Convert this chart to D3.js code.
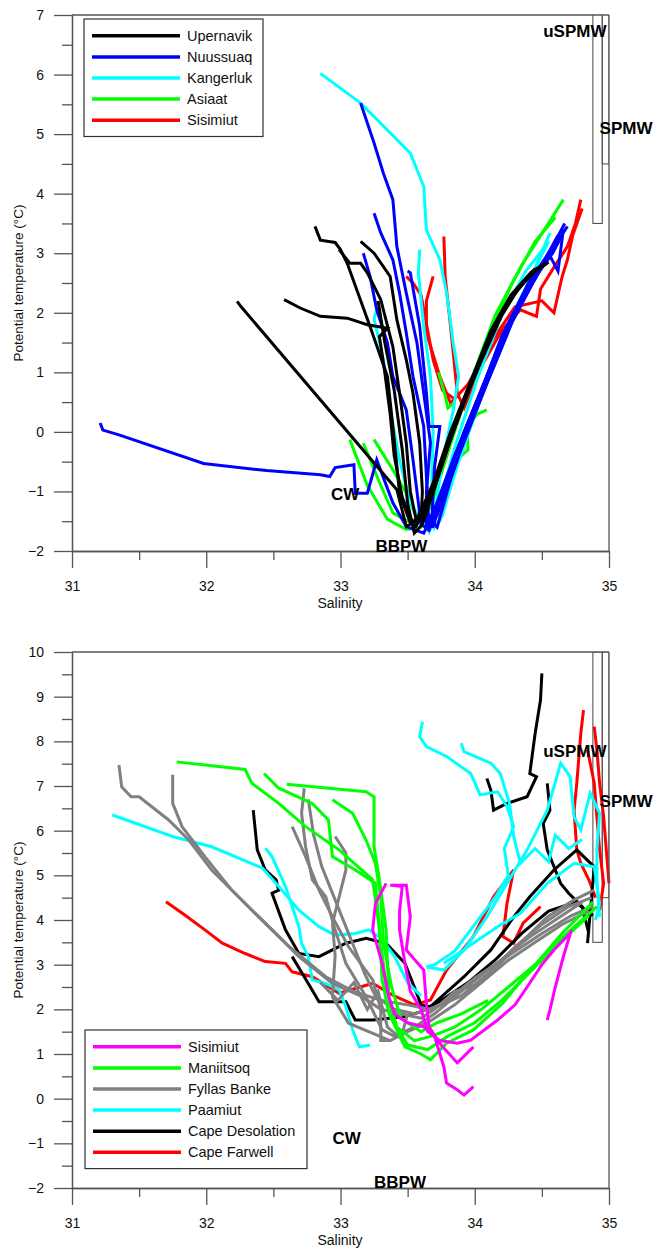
<!DOCTYPE html>
<html>
<head>
<meta charset="utf-8">
<script src="https://cdn.jsdelivr.net/npm/d3@7"></script>
<style>
  body { margin: 0; background: #fff; }
  svg text { font-family: Arial, "Liberation Sans", sans-serif; }
</style>
</head>
<body>
<script>
// ---- data: [salinity, potential temperature] along each profile ----

// upper panel
var upernavik = [
  [[32.23,2.19],[32.26,2.1],[33.42,-0.97],[33.49,-1.59],[33.56,-1.5],[33.72,-0.75],[33.84,0.09],[33.99,0.93],[34.14,1.77],[34.29,2.33],[34.44,2.72],[34.54,2.83]],
  [[32.81,3.45],[32.85,3.22],[32.96,3.18],[33.0,3.06],[33.05,2.83],[33.22,1.77],[33.35,0.93],[33.39,0.09],[33.44,-1.03],[33.52,-1.53],[33.58,-1.45],[33.7,-0.8],[33.82,0.0],[33.97,0.85],[34.12,1.7],[34.27,2.3],[34.42,2.68],[34.52,2.8]],
  [[32.58,2.22],[32.7,2.08],[32.85,1.94],[33.05,1.91],[33.2,1.8],[33.35,1.74],[33.29,1.6],[33.33,1.0],[33.37,0.3],[33.4,-0.4],[33.46,-1.1],[33.55,-1.6],[33.62,-1.4],[33.75,-0.55],[33.88,0.3],[34.02,1.1],[34.17,1.85],[34.32,2.4],[34.47,2.75],[34.55,2.85]],
  [[32.99,3.06],[33.07,2.83],[33.15,2.83],[33.2,2.67],[33.3,2.22],[33.39,1.43],[33.44,0.65],[33.49,-0.19],[33.52,-1.0],[33.57,-1.55],[33.63,-1.3],[33.74,-0.6],[33.86,0.2],[34.0,1.0],[34.15,1.8],[34.3,2.35],[34.45,2.7],[34.53,2.82]],
  [[33.15,3.2],[33.25,3.0],[33.37,2.61],[33.42,1.88],[33.49,1.21],[33.54,0.65],[33.59,-0.19],[33.61,-1.0],[33.6,-1.5],[33.66,-1.2],[33.78,-0.4],[33.9,0.4],[34.05,1.2],[34.2,1.95],[34.35,2.5],[34.5,2.8]],
  [[33.28,2.2],[33.33,1.5],[33.4,0.7],[33.46,-0.3],[33.5,-1.2],[33.55,-1.7],[33.61,-1.55],[33.7,-0.95],[33.8,-0.25],[33.94,0.6],[34.08,1.45],[34.24,2.15],[34.4,2.6],[34.5,2.78]]
];
var nuussuaq = [
  [[33.15,5.52],[33.25,4.85],[33.32,4.34],[33.39,3.9],[33.42,3.11],[33.49,2.33],[33.57,1.49],[33.62,0.65],[33.67,-0.18],[33.64,-1.0],[33.64,-1.59],[33.69,-1.59],[33.84,-0.47],[34.04,0.65],[34.24,1.77],[34.46,2.61],[34.59,3.11],[34.69,3.45]],
  [[31.21,0.15],[31.23,0.03],[31.35,-0.05],[31.98,-0.53],[32.45,-0.65],[32.85,-0.72],[32.92,-0.75],[32.96,-0.6],[33.1,-0.55],[33.11,-1.03],[33.2,-1.03],[33.27,-0.47],[33.39,-1.19],[33.49,-1.59],[33.62,-1.7],[33.7,-1.3],[33.85,-0.4],[34.05,0.7],[34.25,1.8],[34.45,2.6],[34.58,3.0],[34.65,3.3]],
  [[33.25,3.67],[33.3,3.34],[33.39,2.89],[33.44,2.33],[33.49,1.66],[33.54,0.93],[33.62,0.09],[33.64,-0.75],[33.66,-1.6],[33.72,-1.4],[33.88,-0.4],[34.08,0.75],[34.28,1.85],[34.48,2.7],[34.6,3.2],[34.67,3.5]],
  [[33.17,3.0],[33.22,2.61],[33.27,2.05],[33.35,1.49],[33.39,0.93],[33.49,0.37],[33.54,-0.47],[33.6,-1.55],[33.66,-1.65],[33.76,-1.0],[33.92,0.0],[34.12,1.1],[34.32,2.1],[34.5,2.8],[34.62,3.3]],
  [[33.5,2.7],[33.52,2.67],[33.59,1.77],[33.64,0.65],[33.66,0.09],[33.74,0.09],[33.7,-0.6],[33.68,-1.5],[33.72,-1.6],[33.82,-0.8],[34.0,0.4],[34.2,1.6],[34.4,2.5],[34.55,3.0],[34.62,2.7],[34.66,3.4]]
];
var kangerluk = [
  [[32.85,6.02],[33.15,5.52],[33.52,4.68],[33.62,4.12],[33.64,3.39],[33.74,2.89],[33.79,2.34],[33.84,1.49],[33.88,0.93],[33.84,0.37],[33.75,-0.6],[33.69,-1.59],[33.74,-1.5],[33.88,-0.5],[34.05,0.6],[34.25,1.7],[34.42,2.6],[34.56,3.34]],
  [[33.59,3.06],[33.58,2.67],[33.62,1.77],[33.67,0.93],[33.69,0.0],[33.68,-0.8],[33.7,-1.6],[33.76,-1.4],[33.9,-0.3],[34.08,0.85],[34.28,1.95],[34.45,2.75],[34.55,3.2]],
  [[33.27,2.05],[33.25,1.9],[33.32,1.21],[33.37,0.37],[33.44,-0.47],[33.52,-1.2],[33.66,-1.68],[33.72,-1.3],[33.86,-0.2],[34.02,0.9],[34.2,1.95],[34.38,2.7],[34.52,3.1]]
];
var asiaat = [
  [[33.07,-0.13],[33.2,-0.9],[33.35,-1.47],[33.49,-1.64],[33.6,-1.6],[33.68,-1.2],[33.82,-0.2],[33.98,0.9],[34.15,1.95],[34.35,2.8],[34.52,3.4],[34.66,3.9]],
  [[33.17,-0.19],[33.3,-0.9],[33.39,-1.36],[33.5,-1.5],[33.62,-1.45],[33.75,-0.7],[33.9,0.4],[34.08,1.5],[34.28,2.5],[34.45,3.2],[34.6,3.6]],
  [[33.25,-0.13],[33.38,-0.6],[33.49,-1.03],[33.56,-1.4],[33.66,-1.5],[33.85,-0.5],[33.95,-0.3],[33.94,0.09],[34.02,0.3],[34.09,0.37]],
  [[33.73,1.0],[33.78,0.6],[33.8,0.4],[33.85,0.5]]
];
var sisimiutUp = [
  [[33.77,3.28],[33.78,2.6],[33.82,1.77],[33.87,0.65],[33.92,0.4],[34.05,1.1],[34.2,1.7],[34.34,2.05],[34.46,1.94],[34.49,2.4],[34.6,2.8],[34.69,3.11],[34.75,3.5],[34.79,3.9]],
  [[33.69,2.61],[33.64,2.2],[33.64,1.66],[33.74,0.93],[33.82,0.48],[33.95,0.8],[34.12,1.5],[34.3,2.1],[34.5,2.2],[34.59,2.0],[34.65,2.6],[34.69,2.89],[34.73,3.3],[34.8,3.75]],
  [[33.49,2.61],[33.54,2.5],[33.6,2.3],[33.69,1.21],[33.76,0.7],[33.85,0.55]]
];

// lower panel
var sisimiutLow = [
  [[33.34,4.82],[33.26,4.37],[33.24,3.78],[33.31,3.03],[33.36,2.28],[33.4,1.9],[33.5,1.7],[33.62,1.61],[33.7,1.4],[33.77,0.71],[33.79,0.35],[33.87,0.2],[33.92,0.08],[33.99,0.27]],
  [[33.39,4.78],[33.46,4.75],[33.44,4.2],[33.44,3.78],[33.48,3.03],[33.52,2.4],[33.6,2.0],[33.65,1.5],[33.74,1.3],[33.87,1.24],[33.97,1.31],[34.17,1.76],[34.3,2.1],[34.39,2.5],[34.5,3.0],[34.59,3.33],[34.71,3.7]],
  [[33.37,4.78],[33.49,4.78],[33.52,4.07],[33.49,3.33],[33.62,2.88],[33.64,2.14],[33.66,1.6],[33.75,1.2],[33.87,0.8],[33.99,1.16]],
  [[34.72,3.78],[34.66,3.18],[34.6,2.5],[34.56,1.99],[34.54,1.76]]
];
var maniitsoq = [
  [[31.78,7.54],[32.29,7.37],[32.34,7.06],[32.54,6.61],[32.74,6.09],[32.99,5.57],[33.24,4.9],[33.29,3.78],[33.31,2.66],[33.36,1.91],[33.48,1.16],[33.6,1.0],[33.67,0.87],[33.79,1.24],[33.99,1.54],[34.21,2.14],[34.41,2.88],[34.66,3.63],[34.91,4.3]],
  [[32.43,7.28],[32.54,6.95],[32.79,6.61],[32.91,6.24],[32.94,5.42],[33.11,5.12],[33.26,4.82],[33.3,3.5],[33.34,2.5],[33.4,1.7],[33.5,1.2],[33.65,1.1],[33.8,1.4],[34.0,1.7],[34.2,2.2],[34.4,2.8],[34.6,3.4],[34.85,4.1]],
  [[32.6,7.04],[33.19,6.87],[33.25,6.76],[33.25,5.64],[33.29,4.9],[33.34,3.78],[33.36,2.28],[33.42,1.6],[33.55,1.3],[33.68,1.4],[33.85,1.6],[34.05,2.0],[34.25,2.5],[34.45,3.0],[34.65,3.7],[34.88,4.4]],
  [[32.94,6.69],[33.09,6.39],[33.19,5.79],[33.26,5.27],[33.3,4.5],[33.32,3.5],[33.38,2.5],[33.45,1.8],[33.6,1.5],[33.72,1.7],[33.9,1.9],[34.1,2.2]]
];
var fyllasBanke = [
  [[31.35,7.47],[31.37,6.98],[31.44,6.76],[31.5,6.76],[31.72,6.24],[31.87,5.79],[32.04,5.12],[32.24,4.52],[32.44,3.93],[32.69,3.18],[32.94,2.58],[33.15,2.3],[33.3,2.0],[33.45,1.9],[33.6,1.8],[33.7,2.0],[33.85,2.4],[34.04,2.58],[34.29,3.33],[34.54,4.07],[34.74,4.45],[34.89,4.67]],
  [[31.75,7.25],[31.75,6.61],[31.82,6.09],[31.99,5.42],[32.19,4.67],[32.39,4.07],[32.62,3.4],[32.89,2.73],[33.1,2.4],[33.3,2.2],[33.5,2.1],[33.67,1.99],[33.9,2.3],[34.1,2.8],[34.3,3.4],[34.5,3.9],[34.7,4.3],[34.87,4.5]],
  [[32.73,6.95],[32.71,6.39],[32.74,5.64],[32.79,4.9],[32.89,4.52],[32.96,3.78],[33.04,3.03],[33.19,2.28],[33.31,1.54],[33.4,1.4],[33.55,1.6],[33.7,1.9],[33.9,2.4],[34.15,3.0],[34.4,3.6],[34.6,4.0],[34.8,4.4]],
  [[32.64,6.09],[32.74,5.42],[32.84,4.67],[32.94,4.07],[33.06,3.4],[33.24,2.66],[33.3,2.0],[33.3,1.3],[33.37,1.3],[33.5,1.5],[33.65,1.7],[33.85,2.1],[34.05,2.6],[34.25,3.1],[34.45,3.5],[34.65,3.9],[34.85,4.2]],
  [[32.96,5.87],[33.04,5.5],[33.04,5.12],[32.99,4.52],[32.94,3.93],[32.96,3.2],[32.94,2.28],[33.06,1.69],[33.25,1.45],[33.37,1.3]],
  [[32.76,6.7],[32.8,5.9],[32.86,5.2],[32.98,4.3],[33.1,3.4],[33.18,2.8],[33.26,2.3],[33.4,2.0],[33.55,1.9],[33.75,2.1],[34.0,2.7],[34.25,3.2],[34.5,3.7],[34.72,4.1],[34.88,4.3]],
  [[32.85,2.6],[32.98,2.2],[33.1,2.6],[33.2,2.0],[33.28,2.4],[33.35,1.6],[33.45,1.35],[33.5,1.9]]
];
var paamiut = [
  [[31.3,6.35],[31.75,5.87],[32.04,5.64],[32.42,5.16],[32.54,4.75],[32.69,4.22],[32.84,3.85],[32.96,3.66],[33.11,3.7],[33.21,3.78],[33.3,3.6],[33.4,3.2],[33.5,2.6],[33.6,2.3]],
  [[32.44,5.61],[32.49,5.42],[32.59,4.75],[32.64,4.3],[32.69,3.85],[32.71,3.48],[32.76,3.18],[32.79,2.66],[32.89,2.58],[32.99,2.43],[33.04,2.06],[33.09,1.54],[33.14,1.16],[33.22,1.2]],
  [[33.61,8.44],[33.59,8.1],[33.64,7.88],[33.79,7.66],[33.97,7.28],[34.04,6.8],[34.17,6.87],[34.24,6.54],[34.29,6.09],[34.22,5.6],[34.25,5.0],[34.15,4.5],[34.0,3.9],[33.85,3.3],[33.7,3.0],[33.64,2.95]],
  [[33.9,7.96],[33.92,7.77],[34.12,7.51],[34.19,7.28],[34.26,6.6],[34.29,5.87],[34.34,5.27],[34.45,5.6],[34.55,5.3],[34.6,5.9],[34.7,5.6],[34.8,5.8]],
  [[33.64,2.95],[33.77,2.88],[33.92,3.33],[34.09,4.07],[34.24,4.82],[34.39,5.57],[34.54,6.46],[34.64,7.51],[34.71,7.21],[34.74,6.31],[34.79,6.02],[34.86,6.84],[34.93,6.39],[34.91,5.57],[34.91,4.82],[34.93,4.07]],
  [[33.77,3.03],[33.95,3.4],[34.17,3.85],[34.34,4.15],[34.54,4.82],[34.74,5.27],[34.89,5.19],[34.93,4.37],[34.9,4.0]]
];
var capeDesolation = [
  [[32.35,6.46],[32.38,5.57],[32.44,5.12],[32.52,4.9],[32.54,4.67],[32.49,4.6],[32.59,3.78],[32.69,3.25],[32.84,3.18],[32.94,3.33],[33.04,3.48],[33.19,3.59],[33.34,3.48],[33.48,3.03],[33.55,2.5],[33.6,2.1],[33.67,2.06],[33.92,2.73],[34.12,3.33],[34.29,4.07],[34.41,4.52],[34.59,5.12],[34.76,5.57],[34.89,5.19],[34.84,3.48]],
  [[32.64,3.18],[32.76,2.58],[32.84,2.17],[33.04,2.17],[33.11,1.76],[33.24,1.76],[33.48,1.84],[33.6,1.95],[33.75,2.2],[33.95,2.6],[34.15,3.1],[34.35,3.7],[34.55,4.2],[34.75,4.4],[34.88,4.1]],
  [[34.09,7.17],[34.12,6.91],[34.14,6.46],[34.24,6.61],[34.39,6.76],[34.46,7.21],[34.41,7.28],[34.45,8.18],[34.49,8.93],[34.5,9.52]],
  [[34.54,7.06],[34.56,6.46],[34.51,6.16],[34.54,5.57],[34.64,4.82],[34.7,4.6],[34.8,4.3],[34.85,3.7]]
];
var capeFarwell = [
  [[31.7,4.41],[31.84,4.11],[31.99,3.78],[32.12,3.48],[32.29,3.25],[32.44,3.07],[32.59,3.03],[32.64,2.84],[32.79,2.73],[32.99,2.36],[33.16,2.51],[33.24,2.58],[33.4,2.3],[33.55,2.1],[33.67,2.21],[33.79,2.88],[33.99,3.63],[34.14,4.52],[34.29,5.12],[34.24,4.37],[34.21,3.63],[34.29,3.48],[34.36,3.93],[34.49,4.3]],
  [[34.81,8.7],[34.79,8.18],[34.76,7.06],[34.74,6.46],[34.76,5.57],[34.79,5.27],[34.85,4.9],[34.9,4.5]],
  [[34.89,8.33],[34.91,7.81],[34.93,7.06],[34.96,6.31],[34.98,5.57],[35.0,4.82]],
  [[34.84,7.81],[34.89,7.06],[34.91,6.31],[34.93,5.57],[34.96,4.82],[34.93,4.22]]
];

// water mass boxes [S0, S1, T0, T1] and labels
var uSPMWBox = [34.88, 34.95, 3.5, 10];
var SPMWBox = [34.95, 35.0, 4.5, 10];
var upLabels = [["uSPMW", 34.51, 6.63], ["SPMW", 34.93, 5.0], ["CW", 32.93, -1.15], ["BBPW", 33.26, -2.01]];
var lowLabels = [["uSPMW", 34.51, 7.66], ["SPMW", 34.93, 6.52], ["CW", 32.94, -1.01], ["BBPW", 33.25, -2.01]];

var upSeries = [
  {name: "Upernavik", color: "#000000", data: upernavik},
  {name: "Nuussuaq", color: "#0000ff", data: nuussuaq},
  {name: "Kangerluk", color: "#00ffff", data: kangerluk},
  {name: "Asiaat", color: "#00ff00", data: asiaat},
  {name: "Sisimiut", color: "#ff0000", data: sisimiutUp}
];
var lowSeries = [
  {name: "Sisimiut", color: "#ff00ff", data: sisimiutLow},
  {name: "Maniitsoq", color: "#00ff00", data: maniitsoq},
  {name: "Fyllas Banke", color: "#808080", data: fyllasBanke},
  {name: "Paamiut", color: "#00ffff", data: paamiut},
  {name: "Cape Desolation", color: "#000000", data: capeDesolation},
  {name: "Cape Farwell", color: "#ff0000", data: capeFarwell}
];

var svg = d3.select("body").append("svg")
    .attr("width", 653)
    .attr("height", 1249);

var axisColor = "#555";

function drawPanel(cfg) {
  var x = d3.scaleLinear().domain([31, 35]).range([72, 609]);
  var y = d3.scaleLinear().domain(cfg.yDomain).range([cfg.bottom, cfg.top]);
  var g = svg.append("g");

  var clipId = "clip" + cfg.top;
  g.append("clipPath").attr("id", clipId)
    .append("rect").attr("x", 72).attr("y", cfg.top).attr("width", 537).attr("height", cfg.bottom - cfg.top);

  // water mass boxes
  [uSPMWBox, SPMWBox].forEach(function(b) {
    g.append("rect")
      .attr("clip-path", "url(#" + clipId + ")")
      .attr("x", x(b[0])).attr("y", y(b[3]))
      .attr("width", x(b[1]) - x(b[0])).attr("height", y(b[2]) - y(b[3]))
      .attr("fill", "none").attr("stroke", axisColor).attr("stroke-width", 1.1);
  });

  // profiles, last legend entry drawn first
  var line = d3.line().x(function(d) { return x(d[0]); }).y(function(d) { return y(d[1]); });
  cfg.series.slice().reverse().forEach(function(s) {
    g.selectAll(null).data(s.data).enter().append("path")
      .attr("d", line)
      .attr("fill", "none")
      .attr("stroke", s.color)
      .attr("stroke-width", 3)
      .attr("stroke-linejoin", "miter");
  });

  // frame top/right
  g.append("line").attr("x1", 72).attr("x2", 609).attr("y1", cfg.top).attr("y2", cfg.top)
    .attr("stroke", axisColor).attr("stroke-width", 1.3);
  g.append("line").attr("x1", 609).attr("x2", 609).attr("y1", cfg.top).attr("y2", cfg.bottom)
    .attr("stroke", axisColor).attr("stroke-width", 1.3);

  // axes
  var xMajor = [31, 32, 33, 34, 35], xMinor = [31.5, 32.5, 33.5, 34.5];
  var yMajor = d3.range(cfg.yDomain[0], cfg.yDomain[1] + 1), yMinor = yMajor.slice(0, -1).map(function(v) { return v + 0.5; });

  function styleAxis(sel) {
    sel.selectAll("path,line").attr("stroke", axisColor).attr("stroke-width", 1.3);
    sel.selectAll("text").attr("font-size", "14px").attr("fill", "#111");
  }
  g.append("g").attr("transform", "translate(0," + cfg.bottom + ")")
    .call(d3.axisBottom(x).tickValues(xMinor).tickSize(9).tickSizeOuter(0).tickFormat(""))
    .call(styleAxis);
  g.append("g").attr("transform", "translate(0," + cfg.bottom + ")")
    .call(d3.axisBottom(x).tickValues(xMajor).tickSize(17).tickSizeOuter(0).tickPadding(13).tickFormat(d3.format("d")))
    .call(styleAxis);
  g.append("g").attr("transform", "translate(72,0)")
    .call(d3.axisLeft(y).tickValues(yMinor).tickSize(10).tickSizeOuter(0).tickFormat(""))
    .call(styleAxis);
  g.append("g").attr("transform", "translate(72,0)")
    .call(d3.axisLeft(y).tickValues(yMajor).tickSize(18).tickSizeOuter(0).tickPadding(10).tickFormat(d3.format("d")))
    .call(styleAxis);

  // titles
  g.append("text").attr("x", 340).attr("y", cfg.bottom + 57)
    .attr("text-anchor", "middle").attr("font-size", "14px").attr("fill", "#111").text("Salinity");
  g.append("text")
    .attr("transform", "translate(18," + ((cfg.top + cfg.bottom) / 2) + ") rotate(-90)")
    .attr("text-anchor", "middle").attr("dominant-baseline", "central")
    .attr("font-size", "13.5px").attr("fill", "#111").text("Potential temperature (°C)");

  // water mass labels
  cfg.labels.forEach(function(l) {
    g.append("text").attr("x", x(l[1])).attr("y", y(l[2]))
      .attr("font-size", "17px").attr("font-weight", "bold").attr("fill", "#000").text(l[0]);
  });

  // legend
  var lg = g.append("g").attr("transform", "translate(" + cfg.legend[0] + "," + cfg.legend[1] + ")");
  var n = cfg.series.length;
  lg.append("rect").attr("x", 0).attr("y", 0).attr("width", cfg.legend[2]).attr("height", 12 + n * 21.1)
    .attr("fill", "#fff").attr("stroke", "#333").attr("stroke-width", 1.2);
  cfg.series.forEach(function(s, i) {
    var yy = 16.8 + i * 21.1;
    lg.append("line").attr("x1", 8).attr("x2", 96).attr("y1", yy).attr("y2", yy)
      .attr("stroke", s.color).attr("stroke-width", 3.5);
    lg.append("text").attr("x", 103).attr("y", yy).attr("dominant-baseline", "central")
      .attr("font-size", "14.5px").attr("fill", "#111").text(s.name);
  });
}

drawPanel({top: 15, bottom: 551, yDomain: [-2, 7], series: upSeries, labels: upLabels, legend: [84, 19, 179]});
drawPanel({top: 652, bottom: 1188, yDomain: [-2, 10], series: lowSeries, labels: lowLabels, legend: [85, 1030, 222]});
</script>
</body>
</html>
